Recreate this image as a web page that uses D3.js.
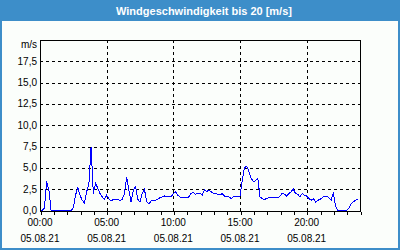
<!DOCTYPE html>
<html lang="de">
<head>
<meta charset="UTF-8">
<script src="https://d3js.org/d3.v7.min.js"></script>
<style>
  html, body { margin: 0; padding: 0; background: #fff; }
  svg { display: block; }
</style>
</head>
<body>
<div id="chart"></div>
<script>
// wind speed in m/s, one value every 10 minutes from 05.08.21 00:00
var windSpeed = [
  0, 0, 0.3, 3.4, 2.4, 0, 0, 0, 0, 0, 0, 0, 0, 0, 0, 0.3, 1.8, 2.7, 1.8, 1.2,
  0.85, 2.2, 3.1, 7.5, 2.0, 3.2, 2.6, 2.0, 1.6, 1.3, 1.8, 1.4, 1.1, 1.3, 1.3, 1.3, 1.2, 1.3, 2.0, 3.9,
  2.4, 1.0, 2.4, 2.8, 1.3, 1.0, 2.0, 2.5, 1.0, 0.8, 1.1, 1.2, 1.2, 1.3, 1.5, 1.6, 1.7, 1.6, 1.6, 1.6,
  2.0, 2.2, 1.8, 1.6, 1.5, 1.5, 1.5, 1.6, 2.0, 2.1, 1.9, 2.0, 2.0, 1.8, 2.4, 2.2, 2.4, 2.2, 2.0, 2.0,
  1.9, 1.8, 2.0, 1.7, 1.6, 1.6, 1.4, 1.6, 1.6, 1.6, 1.7, 3.5, 5.0, 5.2, 4.6, 3.8, 3.4, 3.5, 3.8, 1.6,
  1.4, 1.3, 1.4, 1.5, 1.5, 1.5, 1.5, 1.5, 1.7, 2.0, 1.9, 1.7, 2.0, 2.2, 2.5, 2.0, 1.9, 1.6, 2.0, 1.8,
  1.7, 1.4, 1.2, 1.4, 1.0, 1.2, 1.3, 1.5, 1.7, 1.7, 1.5, 1.2, 2.1, 0.5, 0, 0, 0, 0, 0, 0.3,
  0.8, 1.0, 1.2, 1.3
];
var stepMinutes = 10;
var startTime = new Date(2021, 7, 5, 0, 0);
var endTime = new Date(2021, 7, 6, 0, 0);

var yTicks = [0, 2.5, 5, 7.5, 10, 12.5, 15, 17.5];
var yMax = 20;
var timeLabels = ["00:00", "05:00", "10:00", "15:00", "20:00"];
var dateLabel = "05.08.21";
var title = "Windgeschwindigkeit bis 20 [m/s]";
var unit = "m/s";

var width = 400, height = 250;
var margin = {top: 40, right: 40, bottom: 39.5, left: 40};

var svg = d3.select("#chart").append("svg")
    .attr("width", width)
    .attr("height", height);

// frame + title bar
svg.append("rect")
    .attr("x", 1).attr("y", 1)
    .attr("width", width - 2).attr("height", height - 2)
    .attr("fill", "#fbfefb")
    .attr("stroke", "#3d8ec9")
    .attr("stroke-width", 2);
svg.append("rect")
    .attr("x", 0).attr("y", 0)
    .attr("width", width).attr("height", 21)
    .attr("fill", "#3d8ec9");
svg.append("text")
    .attr("x", 204).attr("y", 14.5)
    .attr("text-anchor", "middle")
    .attr("fill", "#fff")
    .attr("font-family", "Liberation Sans, Arial, sans-serif")
    .attr("font-weight", "bold")
    .attr("font-size", "11px")
    .text(title);

var data = windSpeed.map((v, i) => ({
    t: new Date(startTime.getTime() + i * stepMinutes * 60000),
    v: v
}));

var x = d3.scaleTime()
    .domain([startTime, endTime])
    .range([margin.left, width - margin.right]);

var y = d3.scaleLinear()
    .domain([0, yMax])
    .range([height - margin.bottom, margin.top]);

var fontFam = "Liberation Sans, Arial, sans-serif";

// grid
var grid = svg.append("g")
    .attr("stroke", "#000")
    .attr("stroke-dasharray", "3,3")
    .attr("shape-rendering", "crispEdges");
grid.selectAll("line.h")
    .data(yTicks.filter(d => d > 0))
    .join("line")
    .attr("x1", margin.left).attr("x2", width - margin.right)
    .attr("y1", d => Math.round(y(d)) + 0.5).attr("y2", d => Math.round(y(d)) + 0.5);
var majorHours = d3.timeHour.every(5).range(startTime, endTime).slice(1);
grid.selectAll("line.v")
    .data(majorHours)
    .join("line")
    .attr("y1", margin.top).attr("y2", height - margin.bottom)
    .attr("x1", d => Math.round(x(d)) + 0.5).attr("x2", d => Math.round(x(d)) + 0.5);

// data line
var line = d3.line()
    .x(d => x(d.t))
    .y(d => y(d.v));
svg.append("path")
    .datum(data)
    .attr("fill", "none")
    .attr("stroke", "#0000ff")
    .attr("stroke-width", 1)
    .attr("shape-rendering", "crispEdges")
    .attr("d", line);

// plot frame
svg.append("rect")
    .attr("x", margin.left + 0.5).attr("y", margin.top + 0.5)
    .attr("width", width - margin.left - margin.right)
    .attr("height", Math.round(height - margin.bottom) - margin.top)
    .attr("fill", "none")
    .attr("stroke", "#000")
    .attr("shape-rendering", "crispEdges");

// x axis
var xAxis = svg.append("g")
    .attr("transform", `translate(0.5,${Math.round(height - margin.bottom) + 0.5})`)
    .call(d3.axisBottom(x)
        .ticks(d3.timeHour.every(1))
        .tickSize(3)
        .tickFormat(""))
    .call(g => g.select(".domain").remove())
    .call(g => g.selectAll(".tick line").attr("shape-rendering", "crispEdges"));

var labelHours = d3.timeHour.every(5).range(startTime, endTime);
var xl = svg.append("g")
    .attr("font-family", fontFam)
    .attr("font-size", "10px")
    .attr("fill", "#000")
    .attr("text-anchor", "middle");
xl.selectAll("text.time")
    .data(labelHours)
    .join("text")
    .attr("x", d => x(d))
    .attr("y", 226)
    .text((d, i) => timeLabels[i]);
xl.selectAll("text.date")
    .data(labelHours)
    .join("text")
    .attr("x", d => x(d))
    .attr("y", 242)
    .text(dateLabel);

// y axis labels
var fmt = d3.format(".1f");
var yl = svg.append("g")
    .attr("font-family", fontFam)
    .attr("font-size", "10px")
    .attr("fill", "#000")
    .attr("text-anchor", "end");
yl.selectAll("text")
    .data(yTicks)
    .join("text")
    .attr("x", 37)
    .attr("y", d => y(d) + 3.5)
    .text(d => fmt(d).replace(".", ","));
yl.append("text")
    .attr("x", 37)
    .attr("y", 48)
    .text(unit);
</script>
</body>
</html>
